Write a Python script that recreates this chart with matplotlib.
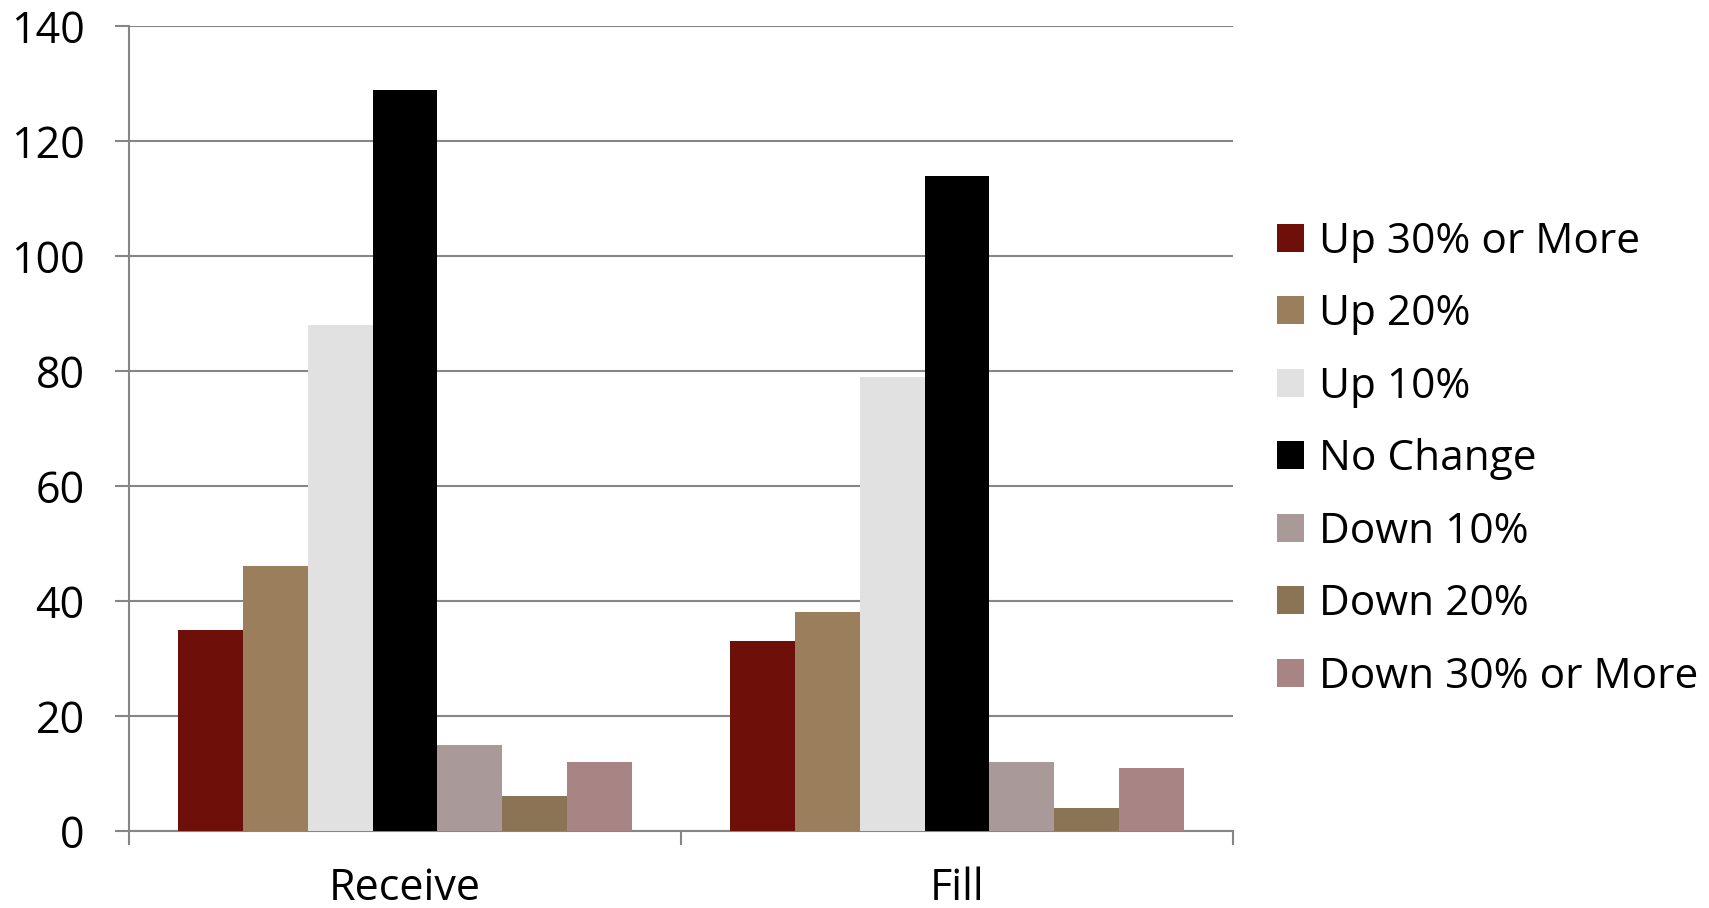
import matplotlib.pyplot as plt
import numpy as np

# categories and series
categories = ["Receive", "Fill"]
series = ["Up 30% or More", "Up 20%", "Up 10%", "No Change",
          "Down 10%", "Down 20%", "Down 30% or More"]
values = {
    "Up 30% or More": [35, 33],
    "Up 20%": [46, 38],
    "Up 10%": [88, 79],
    "No Change": [129, 114],
    "Down 10%": [15, 12],
    "Down 20%": [6, 4],
    "Down 30% or More": [12, 11],
}
colors = ["#6E0F0A", "#9B7F5C", "#E1E1E1", "#000000",
          "#AA9999", "#8B7355", "#A88584"]

plt.rcParams['font.family'] = ['Open Sans', 'DejaVu Sans']

fig = plt.figure(figsize=(17.09, 9.08), dpi=100)
ax = fig.add_axes([0.0755, 0.085, 0.646, 0.886])

x = np.arange(len(categories))
bar_w = 0.1175
n = len(series)
for i, (name, col) in enumerate(zip(series, colors)):
    offs = (i - (n - 1) / 2) * bar_w
    ax.bar(x + offs, values[name], width=bar_w, color=col, label=name,
           zorder=3)

ax.set_xlim(-0.5, 1.5)
ax.set_ylim(0, 140)
ax.set_yticks(range(0, 141, 20))
ax.yaxis.grid(True, color="#868686", linewidth=1.5, zorder=0)

ax.set_xticks(x)
ax.set_xticklabels(categories)
ax.set_xticks([-0.5, 0.5, 1.5], minor=True)
ax.tick_params(axis='x', which='major', length=0, pad=26, labelsize=31)
ax.tick_params(axis='x', which='minor', length=10, width=1.5, color="#868686")
ax.tick_params(axis='y', length=10, width=1.5, color="#868686", labelsize=31, pad=22)

for s in ["top", "right"]:
    ax.spines[s].set_visible(False)
for s in ["left", "bottom"]:
    ax.spines[s].set_color("#868686")
    ax.spines[s].set_linewidth(1.5)

ax.legend(loc="center left", bbox_to_anchor=(1.005, 0.462), frameon=False,
          fontsize=30.5, handlelength=0.65, handleheight=0.65, handletextpad=0.35,
          labelspacing=0.72)

fig.savefig("out.png", dpi=100)
